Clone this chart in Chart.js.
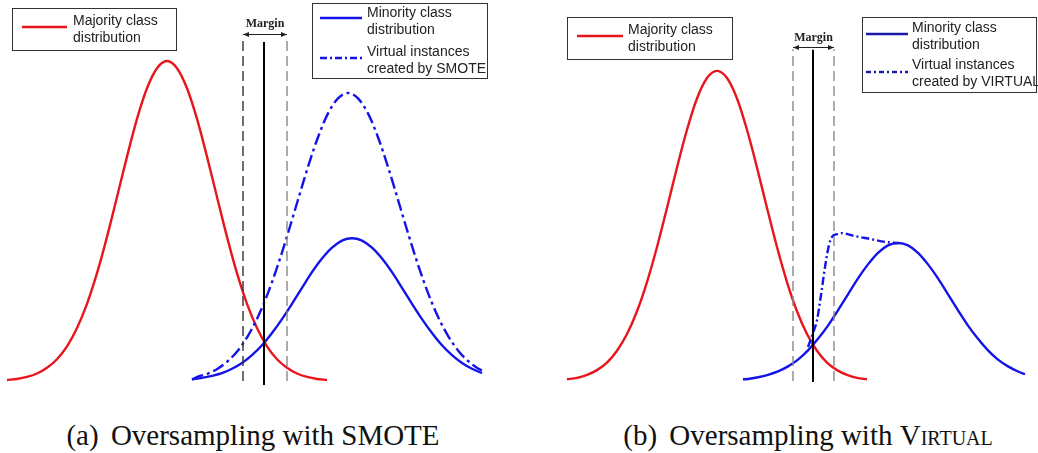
<!DOCTYPE html>
<html>
<head>
<meta charset="utf-8">
<script src="https://cdn.jsdelivr.net/npm/chart.js@4.4.1/dist/chart.umd.min.js"></script>
<style>
  html, body { margin: 0; padding: 0; background: #fff; }
  #page { position: relative; width: 1038px; height: 453px; overflow: hidden; }
  #page canvas { position: absolute; top: 0; }
  .caption {
    position: absolute; top: 421px; line-height: 1;
    font-family: 'Liberation Serif', 'Times New Roman', serif; font-size: 29px;
    color: #111; white-space: nowrap; transform: translateX(-50%);
  }
  .tag { margin-right: 5px; }
  .sc { font-variant: small-caps; }
</style>
</head>
<body>
<div id="page">
  <canvas id="smote" width="519" height="400" style="left:0"></canvas>
  <canvas id="virtual" width="519" height="400" style="left:519px"></canvas>
  <div class="caption" style="left:253px"><span class="tag">(a)</span> Oversampling with SMOTE</div>
  <div class="caption" style="left:808px"><span class="tag">(b)</span> Oversampling with <span class="sc">Virtual</span></div>
</div>
<script>
// --- (a) SMOTE ---
const smoteMajorityX = [0.7, 1.7, 2.7, 3.7, 4.7, 5.7, 6.7, 7.7, 8.7, 9.7, 10.7, 11.7, 12.7, 13.7, 14.7, 15.7, 16.7,
  17.7, 18.7, 19.7, 20.7, 21.7, 22.7, 23.7, 24.7, 25.7, 26.7, 27.7, 28.7, 29.7, 30.7, 31.7, 32.7];
const smoteMajorityY = [0.3, 0.6, 1.2, 2.2, 3.9, 6.4, 10.2, 15.6, 22.7, 31.7, 42.4, 54.1, 66.0, 77.1, 86.1, 92.0, 94.1,
  92.0, 86.1, 77.1, 66.0, 54.1, 42.4, 31.7, 22.7, 15.6, 10.2, 6.4, 3.9, 2.2, 1.2, 0.6, 0.3];

const smoteMinorityX = [19.2, 20.2, 21.2, 22.2, 23.2, 24.2, 25.2, 26.2, 27.2, 28.2, 29.2, 30.2, 31.2, 32.2, 33.2, 34.2,
  35.2, 36.2, 37.2, 38.2, 39.2, 40.2, 41.2, 42.2, 43.2, 44.2, 45.2, 46.2, 47.2, 48.2];
const smoteMinorityY = [0.5, 0.9, 1.5, 2.3, 3.6, 5.3, 7.6, 10.5, 14.1, 18.2, 22.7, 27.4, 32.0, 36.0, 39.2, 41.3,
  42.0, 41.3, 39.2, 36.0, 32.0, 27.4, 22.7, 18.2, 14.1, 10.5, 7.6, 5.3, 3.6, 2.3];

const smoteVirtualX = [19.2, 19.8, 20.8, 21.8, 22.8, 23.8, 24.8, 25.8, 26.8, 27.8, 28.8, 29.8, 30.8, 31.8, 32.8, 33.8,
  34.8, 35.8, 36.8, 37.8, 38.8, 39.8, 40.8, 41.8, 42.8, 43.8, 44.8, 45.8, 46.8, 47.8, 48.2];
const smoteVirtualY = [0.4, 1.3, 2.2, 3.7, 5.9, 9.0, 13.3, 18.9, 25.9, 34.2, 43.5, 53.3, 63.0, 71.7, 78.7, 83.1,
  84.7, 83.1, 78.7, 71.7, 63.0, 53.3, 43.5, 34.2, 25.9, 18.9, 13.3, 9.0, 5.9, 3.7, 3.1];

// --- (b) VIRTUAL ---
const virtMajorityX = [4.8, 5.8, 6.8, 7.8, 8.8, 9.8, 10.8, 11.8, 12.8, 13.8, 14.8, 15.8, 16.8, 17.8, 18.8, 19.8,
  20.8, 21.8, 22.8, 23.8, 24.8, 25.8, 26.8, 27.8, 28.8, 29.8, 30.8, 31.8, 32.8, 33.8, 34.8];
const virtMajorityY = [0.5, 0.9, 1.8, 3.2, 5.4, 8.9, 13.8, 20.5, 29.1, 39.4, 50.9, 62.8, 73.9, 83.1, 89.1, 91.2,
  89.1, 83.1, 73.9, 62.8, 50.9, 39.4, 29.1, 20.5, 13.8, 8.9, 5.4, 3.2, 1.8, 0.9, 0.5];

const virtMinorityX = [22.4, 22.9, 23.9, 24.9, 25.9, 26.9, 27.9, 28.9, 29.9, 30.9, 31.9, 32.9, 33.9, 34.9, 35.9, 36.9,
  37.9, 38.9, 39.9, 40.9, 41.9, 42.9, 43.9, 44.9, 45.9, 46.9, 47.9, 48.9, 49.9, 50.6];
const virtMinorityY = [0.5, 0.6, 1.1, 1.8, 2.8, 4.3, 6.3, 9.0, 12.4, 16.3, 20.8, 25.5, 30.2, 34.3, 37.7, 39.9,
  40.6, 39.9, 37.7, 34.3, 30.2, 25.5, 20.8, 16.3, 12.4, 9.0, 6.3, 4.3, 2.8, 2.0];

const virtVirtualX = [28.9, 29.4, 29.8, 30.2, 30.6, 31.0, 31.3, 31.8, 32.3, 33.6, 35.1, 36.6, 37.9];
const virtVirtualY = [10.0, 14.1, 17.9, 25.3, 33.5, 40.0, 42.4, 43.2, 43.5, 42.6, 41.8, 40.9, 40.6];

// margin: [left bound, decision boundary, right bound]
const smoteMargin = [24.3, 26.4, 28.7];
const virtMargin = [27.4, 29.4, 31.5];

const majorityLabel = ['Majority class', 'distribution'];
const minorityLabel = ['Minority class', 'distribution'];
const smoteVirtualLabel = ['Virtual instances', 'created by SMOTE'];
const virtVirtualLabel = ['Virtual instances', 'created by VIRTUAL'];

const RED = '#e8161c';
const BLUE = '#1414e8';
const DASHDOT = [12, 4, 3, 4];

const pts = (xs, ys) => xs.map((x, i) => ({ x, y: ys[i] }));
const vline = (x, y0, y1) => [{ x, y: y0 }, { x, y: y1 }];

function curve(data, color, dash) {
  return {
    data, borderColor: color, borderWidth: 2.4, borderDash: dash || [],
    pointRadius: 0, fill: false, cubicInterpolationMode: 'monotone'
  };
}
function rule(data, color, width, dash) {
  return { data, borderColor: color, borderWidth: width, borderDash: dash || [], pointRadius: 0, fill: false };
}

// double arrow + "Margin" label above the dashed bounds
const marginPlugin = {
  id: 'marginArrow',
  afterDatasetsDraw(chart, args, opts) {
    const { ctx } = chart;
    const xs = chart.scales.x, ys = chart.scales.y;
    const x0 = xs.getPixelForValue(opts.lo), x1 = xs.getPixelForValue(opts.hi);
    const ya = Math.round(ys.getPixelForValue(opts.arrowY)) + 0.5;
    ctx.save();
    ctx.strokeStyle = '#222';
    ctx.fillStyle = '#222';
    ctx.lineWidth = 1;
    ctx.beginPath();
    ctx.moveTo(x0, ya); ctx.lineTo(x1, ya);
    ctx.stroke();
    [[x0, 1], [x1, -1]].forEach(([x, d]) => {
      ctx.beginPath();
      ctx.moveTo(x, ya);
      ctx.lineTo(x + 6 * d, ya - 2.5);
      ctx.lineTo(x + 6 * d, ya + 2.5);
      ctx.closePath();
      ctx.fill();
    });
    ctx.font = 'bold 12px "Liberation Serif", "Times New Roman", serif';
    ctx.textAlign = 'center';
    ctx.textBaseline = 'middle';
    ctx.fillText('Margin', (x0 + x1) / 2, ys.getPixelForValue(opts.textY));
    ctx.restore();
  }
};

// boxed legends with two-line entries
const boxLegendPlugin = {
  id: 'boxLegend',
  afterDraw(chart, args, opts) {
    const { ctx } = chart;
    ctx.save();
    ctx.font = '14px "Liberation Sans", Arial, sans-serif';
    ctx.textBaseline = 'middle';
    ctx.textAlign = 'left';
    opts.boxes.forEach(b => {
      ctx.strokeStyle = '#333';
      ctx.lineWidth = 1;
      ctx.strokeRect(b.x + 0.5, b.y + 0.5, b.w, b.h);
      b.items.forEach(it => {
        ctx.strokeStyle = it.color;
        ctx.lineWidth = 2.4;
        ctx.setLineDash(it.dash || []);
        ctx.beginPath();
        ctx.moveTo(b.sx0, it.sy);
        ctx.lineTo(b.sx1, it.sy);
        ctx.stroke();
        ctx.setLineDash([]);
        ctx.fillStyle = '#222';
        it.text.forEach((t, i) => ctx.fillText(t, b.tx, it.ty + i * 17));
      });
    });
    ctx.restore();
  }
};

function makeChart(id, datasets, margin, legend) {
  new Chart(document.getElementById(id), {
    type: 'line',
    data: { datasets },
    options: {
      responsive: false,
      animation: false,
      events: [],
      layout: { padding: 0 },
      scales: {
        x: { type: 'linear', display: false, min: 0, max: 51.9 },
        y: { display: false, min: -5.59, max: 112.06 }
      },
      plugins: {
        legend: { display: false },
        tooltip: { enabled: false },
        marginArrow: margin,
        boxLegend: legend
      }
    },
    plugins: [marginPlugin, boxLegendPlugin]
  });
}

makeChart('smote', [
  rule(vline(smoteMargin[0], 0, 100.3), '#333', 1.4, [10, 5]),
  rule(vline(smoteMargin[2], 0, 100.3), '#888', 1.4, [10, 5]),
  rule(vline(smoteMargin[1], -1.2, 99.7), '#000', 2),
  curve(pts(smoteVirtualX, smoteVirtualY), BLUE, DASHDOT),
  curve(pts(smoteMinorityX, smoteMinorityY), BLUE),
  curve(pts(smoteMajorityX, smoteMajorityY), RED)
], { lo: smoteMargin[0], hi: smoteMargin[2], arrowY: 102.1, textY: 105.0 }, {
  boxes: [
    { x: 12, y: 8, w: 164, h: 42, sx0: 22, sx1: 67, tx: 73,
      items: [{ color: RED, sy: 27, ty: 21, text: majorityLabel }] },
    { x: 312, y: 3, w: 175, h: 75, sx0: 320, sx1: 362, tx: 367,
      items: [
        { color: BLUE, sy: 18, ty: 13, text: minorityLabel },
        { color: BLUE, sy: 58, ty: 52, text: smoteVirtualLabel, dash: [7, 3, 2, 3] }
      ] }
  ]
});

makeChart('virtual', [
  rule(vline(virtMargin[0], 0, 97.6), '#888', 1.4, [10, 5]),
  rule(vline(virtMargin[2], 0, 97.6), '#888', 1.4, [10, 5]),
  rule(vline(virtMargin[1], -0.3, 97.4), '#000', 2),
  curve(pts(virtVirtualX, virtVirtualY), BLUE, [8, 3, 2, 3]),
  curve(pts(virtMinorityX, virtMinorityY), BLUE),
  curve(pts(virtMajorityX, virtMajorityY), RED)
], { lo: virtMargin[0], hi: virtMargin[2], arrowY: 98.3, textY: 100.9 }, {
  boxes: [
    { x: 48, y: 17, w: 165, h: 42, sx0: 58, sx1: 104, tx: 109,
      items: [{ color: RED, sy: 36, ty: 30, text: majorityLabel }] },
    { x: 343, y: 17, w: 174, h: 75, sx0: 347, sx1: 389, tx: 393,
      items: [
        { color: '#1a1aa8', sy: 34, ty: 28, text: minorityLabel },
        { color: '#1a1aa8', sy: 72, ty: 65, text: virtVirtualLabel, dash: [5, 3, 2, 3] }
      ] }
  ]
});
</script>
</body>
</html>
